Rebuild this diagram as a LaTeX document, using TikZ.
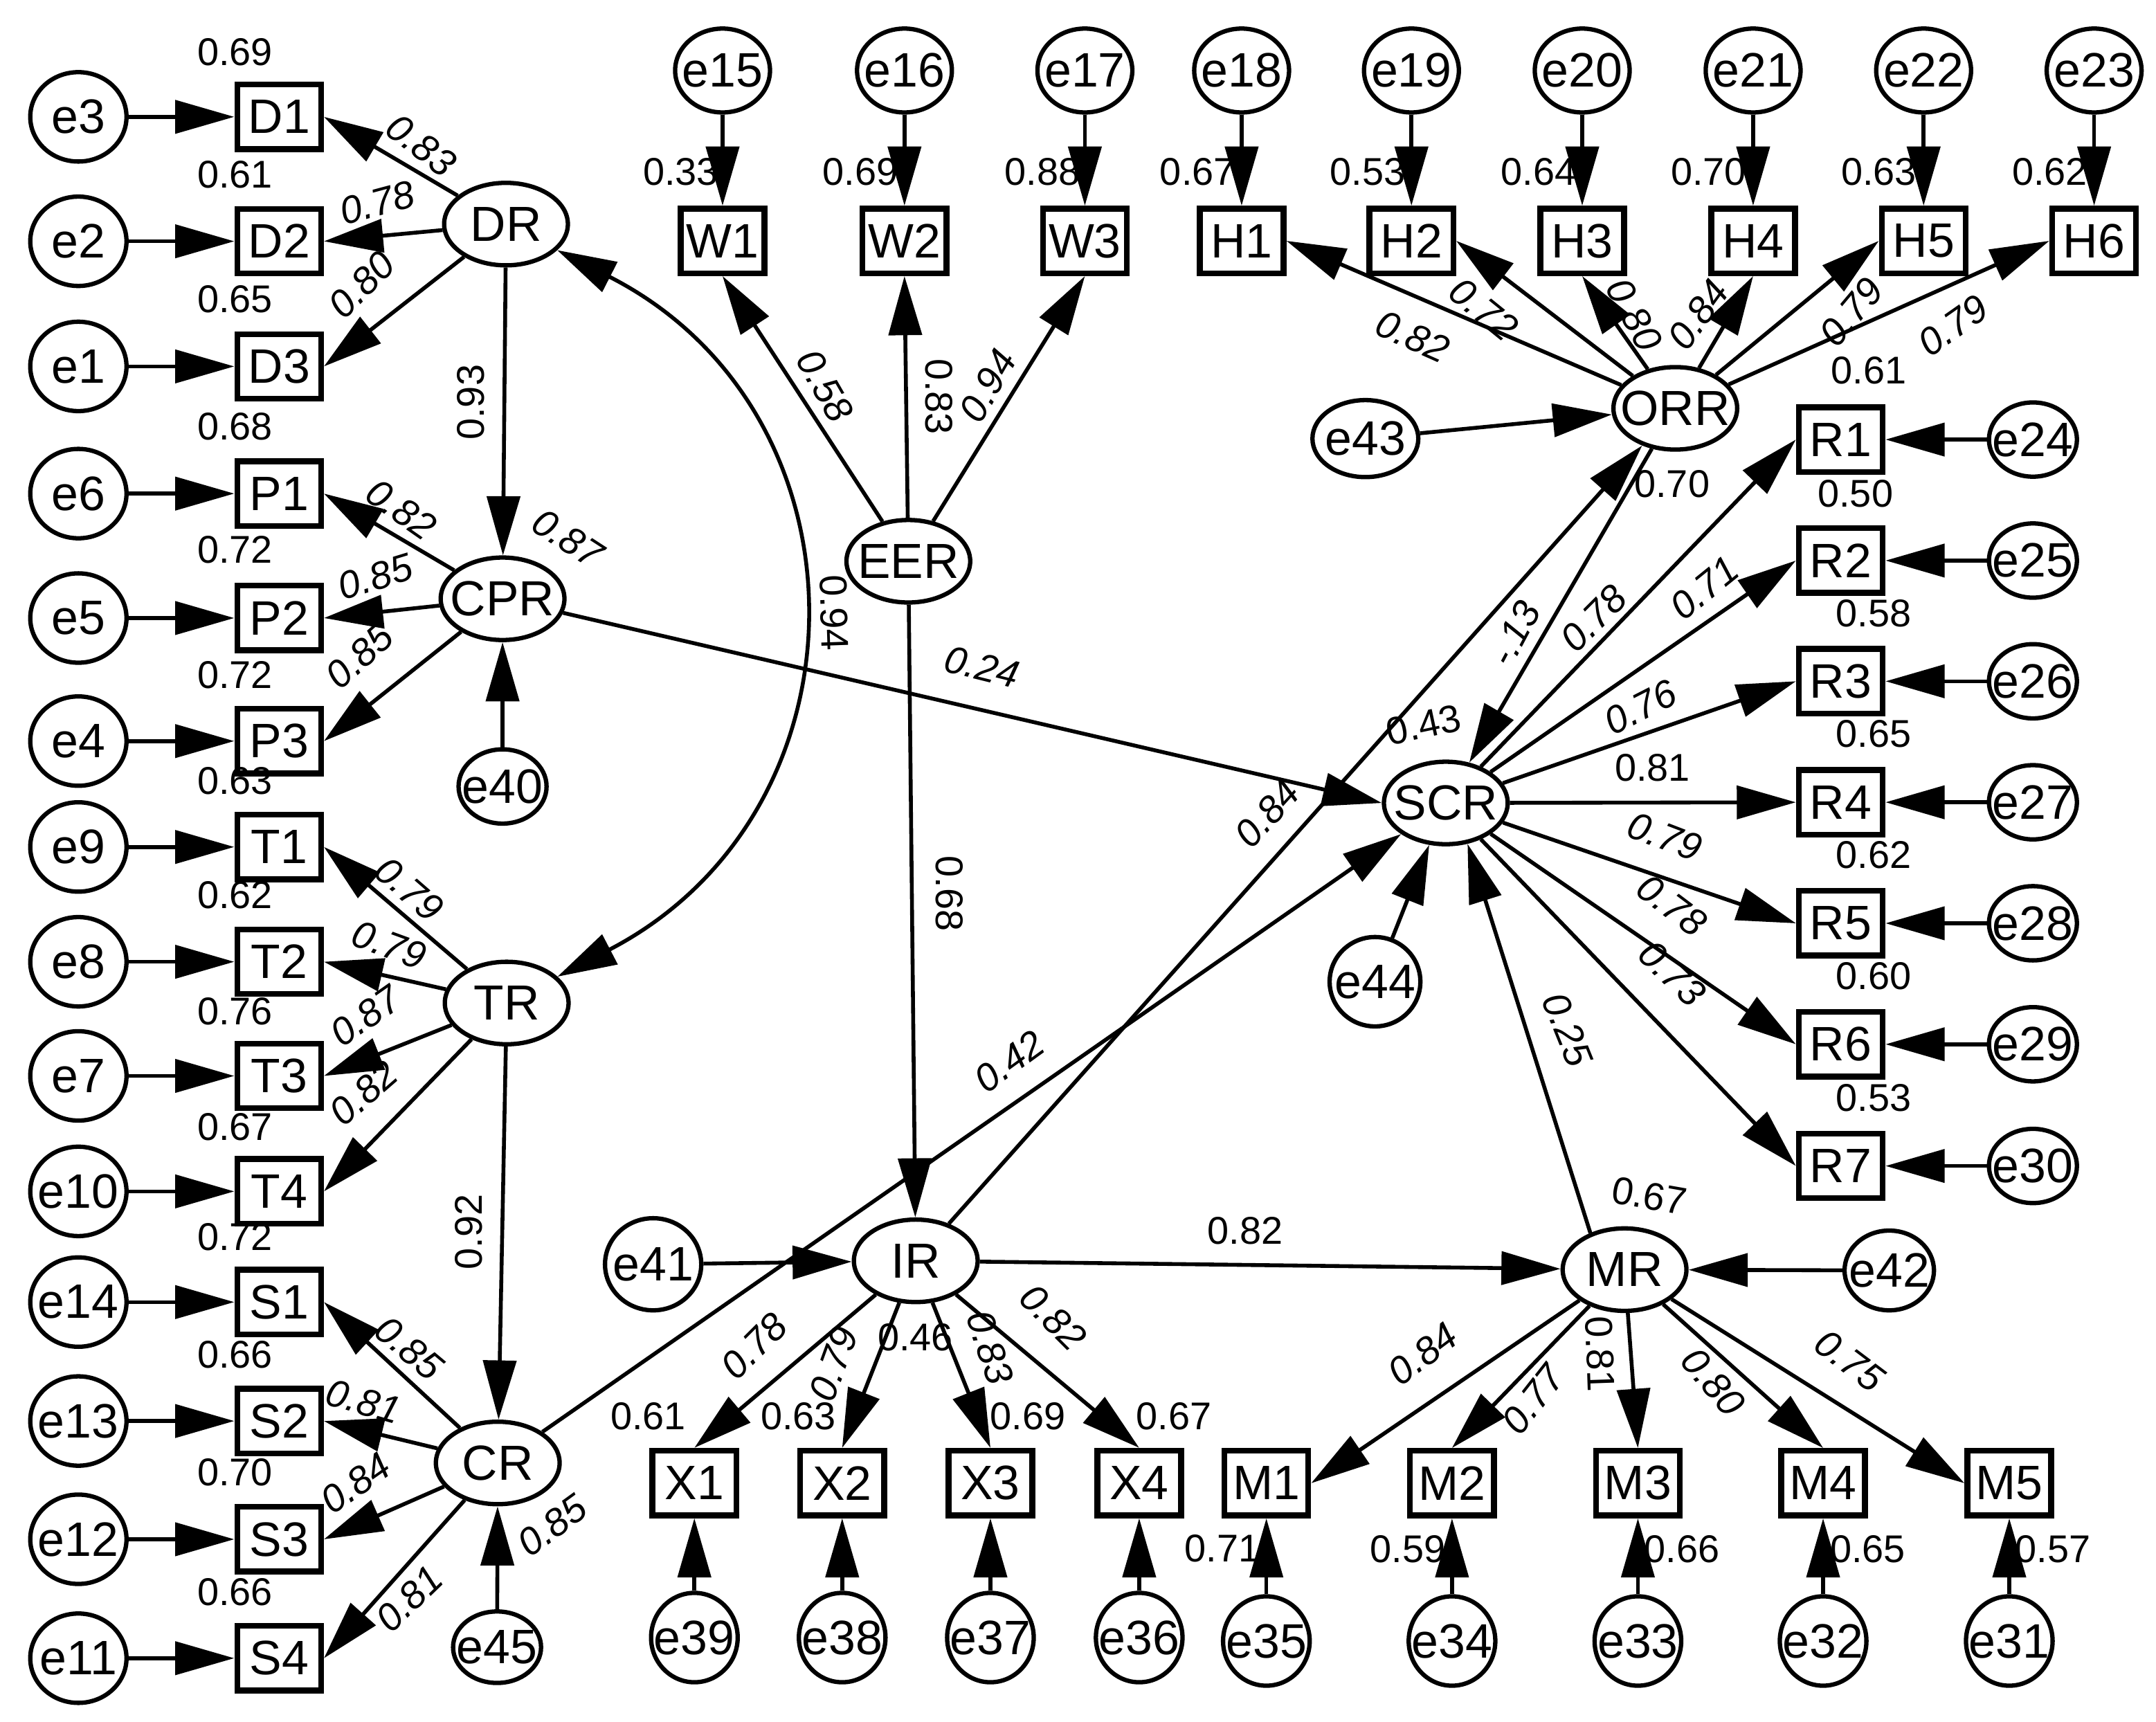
\documentclass[tikz,border=0pt]{standalone}
\usepackage{fontspec}
\setmainfont{Liberation Sans}
\usetikzlibrary{shapes.geometric,arrows.meta}
\newcommand{\zw}[1]{\makebox[0pt][c]{#1}}
\begin{document}
\begin{tikzpicture}[x=0.1mm,y=-0.1mm,
  lat/.style={ellipse,draw,line width=0.9pt,minimum width=9mm,minimum height=6mm,inner sep=0pt,font=\fontsize{10.2}{12}\selectfont},
  obs/.style={rectangle,draw,line width=1.2pt,minimum width=6.1mm,minimum height=4.7mm,inner sep=0pt,font=\fontsize{10}{12}\selectfont},
  err/.style={ellipse,draw,line width=0.9pt,inner sep=0pt,font=\fontsize{10}{12}\selectfont},
  errL/.style={err,minimum width=7mm,minimum height=6.5mm},
  errT/.style={err,minimum width=6.9mm,minimum height=6.1mm},
  errR/.style={err,minimum width=6.4mm,minimum height=5.4mm},
  errB/.style={err,minimum width=6.3mm,minimum height=6.5mm},
  rsq/.style={inner sep=0pt,font=\fontsize{8}{9}\selectfont},
  pth/.style={inner sep=0pt,font=\fontsize{8}{9}\selectfont\itshape},
  arr/.style={-{Triangle[length=4.3mm,width=2.4mm]},line width=0.8pt},
  dbl/.style={{Triangle[length=4.3mm,width=2.4mm]}-{Triangle[length=4.3mm,width=2.4mm]},line width=0.8pt},
]
\fill[white] (0,0) rectangle (1568,1252.4);
\useasboundingbox (0,0) rectangle (1568,1252.4);

% ---------- left column ----------
\node[errL] (e3)  at (57,85)    {\zw{e3}};
\node[errL] (e2)  at (57,175.5) {\zw{e2}};
\node[errL] (e1)  at (57,266.5) {\zw{e1}};
\node[errL] (e6)  at (57,359)   {\zw{e6}};
\node[errL] (e5)  at (57,449.5) {\zw{e5}};
\node[errL] (e4)  at (57,539)   {\zw{e4}};
\node[errL] (e9)  at (57,616)   {\zw{e9}};
\node[errL] (e8)  at (57,699.5) {\zw{e8}};
\node[errL] (e7)  at (57,782.5) {\zw{e7}};
\node[errL] (e10) at (57,866.5) {\zw{e10}};
\node[errL] (e14) at (57,947)   {\zw{e14}};
\node[errL] (e13) at (57,1033.5){\zw{e13}};
\node[errL] (e12) at (57,1119.5){\zw{e12}};
\node[errL] (e11) at (57,1206)  {\zw{e11}};

\node[obs] (D1) at (203,85)    {D1};
\node[obs] (D2) at (203,175.5) {D2};
\node[obs] (D3) at (203,266.5) {D3};
\node[obs] (P1) at (203,359)   {P1};
\node[obs] (P2) at (203,449.5) {P2};
\node[obs] (P3) at (203,539)   {P3};
\node[obs] (T1) at (203,616)   {T1};
\node[obs] (T2) at (203,699.5) {T2};
\node[obs] (T3) at (203,782.5) {T3};
\node[obs] (T4) at (203,866.5) {T4};
\node[obs] (S1) at (203,947)   {S1};
\node[obs] (S2) at (203,1033.5){S2};
\node[obs] (S3) at (203,1119.5){S3};
\node[obs] (S4) at (203,1206)  {S4};

% ---------- latents ----------
\node[lat] (DR)  at (368,163)     {\zw{DR}};
\node[lat] (CPR) at (365.5,435.5) {\zw{CPR}};
\node[lat] (TR)  at (368.5,729.5) {\zw{TR}};
\node[lat] (CR)  at (362,1064)    {\zw{CR}};
\node[lat] (EER) at (660.6,408.2) {\zw{EER}};
\node[lat] (IR)  at (666,917)     {\zw{IR}};
\node[lat] (ORR) at (1218.4,297)  {\zw{ORR}};
\node[lat] (SCR) at (1051.5,584)  {\zw{SCR}};
\node[lat] (MR)  at (1181.5,923.4){\zw{MR}};

% ---------- other error terms ----------
\node[err,minimum width=6.4mm,minimum height=5.4mm] (e40) at (365.5,572) {\zw{e40}};
\node[err,minimum width=6.4mm,minimum height=5.2mm] (e45) at (361.5,1198) {\zw{e45}};
\node[err,minimum width=7.7mm,minimum height=5.6mm] (e43) at (993,319) {\zw{e43}};
\node[err,minimum width=6.6mm,minimum height=6.5mm] (e44) at (1000,714) {\zw{e44}};
\node[err,minimum width=7mm,minimum height=6.7mm] (e41) at (475,919.5) {\zw{e41}};
\node[err,minimum width=6.5mm,minimum height=5.8mm] (e42) at (1374,924) {\zw{e42}};

% ---------- top row ----------
\node[errT] (e15) at (525.5,51.3) {\zw{e15}};
\node[errT] (e16) at (657.8,51.3) {\zw{e16}};
\node[errT] (e17) at (789,51.3)   {\zw{e17}};
\node[errT] (e18) at (903,51.3)   {\zw{e18}};
\node[errT] (e19) at (1026.5,51.3){\zw{e19}};
\node[errT] (e20) at (1150.7,51.3){\zw{e20}};
\node[errT] (e21) at (1275,51.3)  {\zw{e21}};
\node[errT] (e22) at (1399,51.3)  {\zw{e22}};
\node[errT] (e23) at (1523,51.3)  {\zw{e23}};
\node[obs] (W1) at (525.5,175.2) {W1};
\node[obs] (W2) at (657.8,175.2) {W2};
\node[obs] (W3) at (789,175.2)   {W3};
\node[obs] (H1) at (903,175.2)   {H1};
\node[obs] (H2) at (1026.5,175.2){H2};
\node[obs] (H3) at (1150.7,175.2){H3};
\node[obs] (H4) at (1275,175.2)  {H4};
\node[obs] (H5) at (1399,175.2)  {H5};
\node[obs] (H6) at (1523,175.2)  {H6};

% ---------- right column ----------
\node[obs] (R1) at (1338.7,319.7) {R1};
\node[obs] (R2) at (1338.7,407.7) {R2};
\node[obs] (R3) at (1338.7,495.5) {R3};
\node[obs] (R4) at (1338.7,583.5) {R4};
\node[obs] (R5) at (1338.7,671.5) {R5};
\node[obs] (R6) at (1338.7,759.5) {R6};
\node[obs] (R7) at (1338.7,848)   {R7};
\node[errR] (e24) at (1478.5,319.7) {\zw{e24}};
\node[errR] (e25) at (1478.5,407.7) {\zw{e25}};
\node[errR] (e26) at (1478.5,495.5) {\zw{e26}};
\node[errR] (e27) at (1478.5,583.5) {\zw{e27}};
\node[errR] (e28) at (1478.5,671.5) {\zw{e28}};
\node[errR] (e29) at (1478.5,759.5) {\zw{e29}};
\node[errR] (e30) at (1478.5,848)   {\zw{e30}};

% ---------- bottom row ----------
\node[obs] (X1) at (505,1078.6)   {X1};
\node[obs] (X2) at (612.5,1078.6) {X2};
\node[obs] (X3) at (720.3,1078.6) {X3};
\node[obs] (X4) at (828.5,1078.6) {X4};
\node[errB] (e39) at (505,1191)   {\zw{e39}};
\node[errB] (e38) at (612.5,1191) {\zw{e38}};
\node[errB] (e37) at (720.3,1191) {\zw{e37}};
\node[errB] (e36) at (828.5,1191) {\zw{e36}};
\node[obs] (M1) at (921,1078.7)    {M1};
\node[obs] (M2) at (1056,1078.7)   {M2};
\node[obs] (M3) at (1191.2,1078.7) {M3};
\node[obs] (M4) at (1325.9,1078.7) {M4};
\node[obs] (M5) at (1461.3,1078.7) {M5};
\node[errB] (e35) at (921,1193.5)    {\zw{e35}};
\node[errB] (e34) at (1056,1193.5)   {\zw{e34}};
\node[errB] (e33) at (1191.2,1193.5) {\zw{e33}};
\node[errB] (e32) at (1325.9,1193.5) {\zw{e32}};
\node[errB] (e31) at (1461.3,1193.5) {\zw{e31}};

% ---------- squared multiple correlations ----------
\node[rsq] (q1)  at (171,38)    {0.69};
\node[rsq] (q2)  at (171,127)   {0.61};
\node[rsq] (q3)  at (171,217.6) {0.65};
\node[rsq] (q4)  at (171,310)   {0.68};
\node[rsq] (q5)  at (171,399.6) {0.72};
\node[rsq] (q6)  at (171,490.7) {0.72};
\node[rsq] (q7)  at (171,568)   {0.63};
\node[rsq] (q8)  at (171,651)   {0.62};
\node[rsq] (q9)  at (171,735.5) {0.76};
\node[rsq] (q10) at (171,819.8) {0.67};
\node[rsq] (q11) at (171,899.5) {0.72};
\node[rsq] (q12) at (171,985)   {0.66};
\node[rsq] (q13) at (171,1071)  {0.70};
\node[rsq] (q14) at (171,1158)  {0.66};
\node[rsq] (q15) at (495,124.8)   {0.33};
\node[rsq] (q16) at (625.8,124.8) {0.69};
\node[rsq] (q17) at (758,124.8)   {0.88};
\node[rsq] (q18) at (871,124.8)   {0.67};
\node[rsq] (q19) at (994.7,124.8) {0.53};
\node[rsq] (q20) at (1119,124.8)  {0.64};
\node[rsq] (q21) at (1242.5,124.8){0.70};
\node[rsq] (q22) at (1366.5,124.8){0.63};
\node[rsq] (q23) at (1490.7,124.8){0.62};
\node[rsq] (q24) at (1359,269.7)   {0.61};
\node[rsq] (q25) at (1349.4,359.3) {0.50};
\node[rsq] (q26) at (1362.7,446)   {0.58};
\node[rsq] (q27) at (1362.7,533.9) {0.65};
\node[rsq] (q28) at (1362.7,621.7) {0.62};
\node[rsq] (q29) at (1362.7,710)   {0.60};
\node[rsq] (q30) at (1362.7,798.6) {0.53};
\node[rsq] (q31) at (1216,352)     {0.70};
\node[rsq,rotate=12] (q32) at (1035.4,527.2) {0.43};
\node[rsq,rotate=-10] (q33) at (1199.5,869.6) {0.67};
\node[rsq] (q34) at (665.8,972.5) {0.46};
\node[pth,rotate=-33] (q35) at (413.2,391.6) {0.87};
\node[pth,rotate=36] (q36) at (401.6,1109.4) {0.85};
\node[rsq] (q37) at (471.5,1030) {0.61};
\node[rsq] (q38) at (580.6,1030) {0.63};
\node[rsq] (q39) at (747.5,1030) {0.69};
\node[rsq] (q40) at (853.6,1030) {0.67};
\node[rsq] (q41) at (889,1126)    {0.71};
\node[rsq] (q42) at (1024,1126.5) {0.59};
\node[rsq] (q43) at (1223.2,1126.5) {0.66};
\node[rsq] (q44) at (1358.4,1126.5) {0.65};
\node[rsq] (q45) at (1493,1126.5) {0.57};

% ---------- path coefficients ----------
\node[pth,rotate=-38] (p1) at (306.3,105.5) {0.83};
\node[pth,rotate=15]  (p2) at (274.5,147.3) {0.78};
\node[pth,rotate=45]  (p3) at (263,207) {0.80};
\node[rsq,rotate=90]  (p4) at (342.4,292.6) {0.93};
\node[pth,rotate=-35] (p5) at (291.8,370.7) {0.82};
\node[pth,rotate=17]  (p6) at (273,419.5) {0.85};
\node[pth,rotate=42]  (p7) at (261.5,477.2) {0.85};
\node[pth,rotate=-41] (p8) at (297.6,646.7) {0.79};
\node[pth,rotate=-20] (p9) at (283.2,687.2) {0.79};
\node[pth,rotate=35]  (p10) at (265.8,738.9) {0.87};
\node[pth,rotate=41]  (p11) at (264.4,795) {0.82};
\node[rsq,rotate=90]  (p12) at (341,896) {0.92};
\node[pth,rotate=-40] (p13) at (297.6,980.4) {0.85};
\node[pth,rotate=-16] (p14) at (264.4,1019.3) {0.81};
\node[pth,rotate=35]  (p15) at (258.6,1078.7) {0.84};
\node[pth,rotate=44]  (p16) at (297.6,1162.7) {0.81};
\node[rsq,rotate=-88] (p17) at (606.7,445.8) {0.94};
\node[pth,rotate=-60] (p18) at (600,280.6) {0.58};
\node[rsq,rotate=-90] (p19) at (683,288.6) {0.83};
\node[pth,rotate=60]  (p20) at (718.4,280.6) {0.94};
\node[pth,rotate=-14] (p21) at (714.3,485.1) {0.24};
\node[rsq,rotate=-90] (p22) at (690.5,650) {0.68};
\node[pth,rotate=48]  (p23) at (921.7,591.7) {0.84};
\node[pth,rotate=36]  (p24) at (734,772) {0.42};
\node[rsq]            (p25) at (905.6,895) {0.82};
\node[pth,rotate=45]  (p26) at (548.5,979) {0.78};
\node[pth,rotate=70]  (p27) at (606.3,992) {0.79};
\node[pth,rotate=-72] (p28) at (720,980) {0.83};
\node[pth,rotate=-45] (p29) at (766,958) {0.82};
\node[pth,rotate=37]  (p30) at (1034.8,984.6) {0.84};
\node[pth,rotate=52]  (p31) at (1115,1017.7) {0.77};
\node[rsq,rotate=-88] (p32) at (1163.6,984.8) {0.81};
\node[pth,rotate=-50] (p33) at (1245.9,1005) {0.80};
\node[pth,rotate=-37] (p34) at (1345.1,989.8) {0.75};
\node[pth,rotate=-24] (p35) at (1027.4,244.8) {0.82};
\node[pth,rotate=-39] (p36) at (1079,225) {0.72};
\node[pth,rotate=-62] (p37) at (1188.7,228.9) {0.80};
\node[pth,rotate=54]  (p38) at (1235,228.9) {0.84};
\node[pth,rotate=50]  (p39) at (1346.3,227) {0.79};
\node[pth,rotate=35]  (p40) at (1420.4,236.8) {0.79};
\node[pth,rotate=62]  (p41) at (1101.6,460.8) {-.13};
\node[pth,rotate=45]  (p42) at (1158.8,449.6) {0.78};
\node[pth,rotate=39]  (p43) at (1239.4,427.6) {0.71};
\node[pth,rotate=27]  (p44) at (1193,514.3) {0.76};
\node[rsq]            (p45) at (1201.8,558.6) {0.81};
\node[pth,rotate=-21] (p46) at (1210.8,608.4) {0.79};
\node[pth,rotate=-37] (p47) at (1216,658.3) {0.78};
\node[pth,rotate=-44] (p48) at (1216,708) {0.73};
\node[pth,rotate=-68] (p49) at (1140,748.7) {0.25};

% ---------- connectors ----------
\foreach \a/\b in {e3/D1,e2/D2,e1/D3,e6/P1,e5/P2,e4/P3,e9/T1,e8/T2,e7/T3,e10/T4,e14/S1,e13/S2,e12/S3,e11/S4,
  e15/W1,e16/W2,e17/W3,e18/H1,e19/H2,e20/H3,e21/H4,e22/H5,e23/H6,
  e24/R1,e25/R2,e26/R3,e27/R4,e28/R5,e29/R6,e30/R7,
  e39/X1,e38/X2,e37/X3,e36/X4,e35/M1,e34/M2,e33/M3,e32/M4,e31/M5,
  e40/CPR,e45/CR,e43/ORR,e44/SCR,e41/IR,e42/MR,
  DR/CPR,TR/CR,EER/IR,IR/ORR,ORR/SCR,CR/SCR,IR/MR}
  \draw[arr] (\a) -- (\b);
\draw[arr] (MR.133) -- (SCR.-62);
\foreach \b in {D1,D2,D3} \draw[arr] (DR) -- (\b.east);
\foreach \b in {P1,P2,P3} \draw[arr] (CPR) -- (\b.east);
\foreach \b in {T1,T2,T3,T4} \draw[arr] (TR) -- (\b.east);
\foreach \b in {S1,S2,S3,S4} \draw[arr] (CR) -- (\b.east);
\foreach \b in {W1,W2,W3} \draw[arr] (EER) -- (\b.south);
\draw[arr] (ORR) -- (H1.east);
\draw[arr] (ORR) -- (H2.east);
\draw[arr] (ORR) -- (H3.south);
\draw[arr] (ORR) -- (H4.south);
\draw[arr] (ORR) -- (H5.west);
\draw[arr] (ORR) -- (H6.west);
\foreach \b in {R1,R2,R3,R4,R5,R6,R7} \draw[arr] (SCR) -- (\b.west);
\draw[arr] (CPR) -- (SCR.west);
\foreach \b in {X1,X2,X3,X4} \draw[arr] (IR) -- (\b.north);
\draw[arr] (MR) -- (M1.east);
\draw[arr] (MR) -- (M2.north);
\draw[arr] (MR) -- (M3.north);
\draw[arr] (MR) -- (M4.north);
\draw[arr] (MR) -- (M5.west);
\draw[dbl] (DR) .. controls (637,300) and (637,590) .. (TR);
\end{tikzpicture}
\end{document}
